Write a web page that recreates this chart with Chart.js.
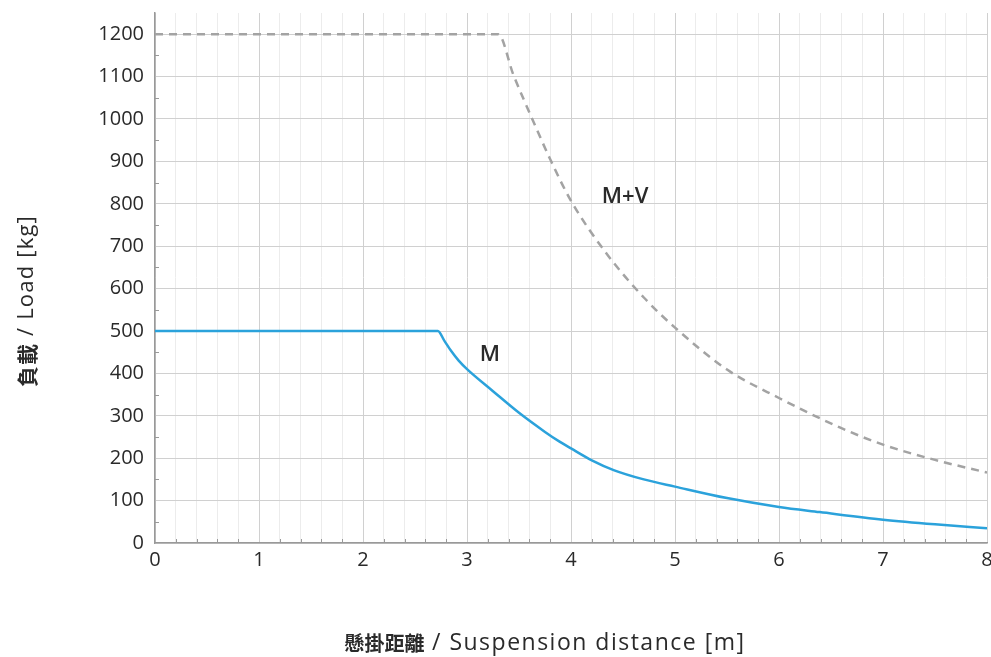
<!DOCTYPE html>
<html>
<head>
<meta charset="utf-8">
<script src="https://cdn.jsdelivr.net/npm/chart.js@4.4.0/dist/chart.umd.min.js"></script>
<style>
html,body{margin:0;padding:0;background:#fff;}
#wrap{width:991px;height:657px;position:relative;}
</style>
</head>
<body>
<div id="wrap"><canvas id="c" width="991" height="657"></canvas></div>
<script>
// Data
const mX = [0, 2.72, 2.78, 2.85, 2.92, 3.0, 3.25, 3.5, 3.75, 3.89, 4.0, 4.2, 4.41, 4.7, 5.0, 5.5, 6.0, 6.39, 7.0, 7.5, 8.0];
const mY = [500, 500, 478, 452, 430, 410, 358, 307, 262, 239, 223, 195, 172, 150, 133, 106, 85, 73, 55, 44, 35];
const mvX = [0, 3.3, 3.445, 3.64, 3.8, 4.0, 4.35, 4.7, 5.0, 5.5, 6.0, 6.59, 7.0, 7.5, 8.0];
const mvY = [1200, 1200, 1105, 993, 905, 807, 680, 579, 508, 409, 342, 272, 232, 196, 166];
const xTicks = [0, 1, 2, 3, 4, 5, 6, 7, 8];
const yTicks = [0, 100, 200, 300, 400, 500, 600, 700, 800, 900, 1000, 1100, 1200];
const seriesLabels = ['M', 'M+V'];
const labelPos = [[3.22, 444], [4.52, 817]];
const xTitleParts = ['懸掛距離', ' / Suspension distance [m]'];
const yTitleParts = ['負載', ' / Load [kg]'];

const FONT = '"Open Sans", "Noto Sans CJK TC", "Noto Sans", sans-serif';
const CJK = '"Noto Sans CJK TC", "Open Sans", sans-serif';
const TEXT = '#2a2a2a';
const toPts = (xs, ys) => xs.map((x, i) => ({x: x, y: ys[i]}));
const near = (v, arr) => arr.some(t => Math.abs(t - v) < 1e-6);

function drawParts(ctx, parts, cx, cy, rot) {
  ctx.save();
  ctx.translate(cx, cy);
  if (rot) ctx.rotate(rot);
  ctx.textBaseline = 'middle';
  ctx.textAlign = 'left';
  ctx.fillStyle = TEXT;
  let total = 0;
  parts.forEach(p => {
    ctx.font = p.font;
    ctx.letterSpacing = p.ls || '0px';
    p.w = ctx.measureText(p.text).width;
    total += p.w;
  });
  let x = -total / 2;
  parts.forEach(p => {
    ctx.font = p.font;
    ctx.letterSpacing = p.ls || '0px';
    ctx.fillText(p.text, x, p.dy || 0);
    x += p.w;
  });
  ctx.restore();
}

const decorPlugin = {
  id: 'decor',
  afterDatasetsDraw(chart) {
    const {ctx, scales, chartArea} = chart;
    // minor tick marks from the scales' own ticks
    ctx.save();
    ctx.strokeStyle = '#999';
    ctx.lineWidth = 1;
    scales.x.ticks.forEach(t => {
      if (near(t.value, xTicks)) return;
      const px = Math.round(scales.x.getPixelForValue(t.value)) + 0.5;
      ctx.beginPath(); ctx.moveTo(px, chartArea.bottom); ctx.lineTo(px, chartArea.bottom - 4); ctx.stroke();
    });
    scales.y.ticks.forEach(t => {
      if (near(t.value, yTicks) || t.value > 1200) return;
      const py = Math.round(scales.y.getPixelForValue(t.value)) + 0.5;
      ctx.beginPath(); ctx.moveTo(chartArea.left - 1, py); ctx.lineTo(chartArea.left + 4, py); ctx.stroke();
    });
    ctx.restore();
    // series labels
    ctx.save();
    ctx.font = '600 22px ' + FONT;
    ctx.fillStyle = TEXT;
    ctx.textAlign = 'center';
    ctx.textBaseline = 'middle';
    seriesLabels.forEach((s, i) => {
      ctx.fillText(s, scales.x.getPixelForValue(labelPos[i][0]), scales.y.getPixelForValue(labelPos[i][1]));
    });
    ctx.restore();
    // axis titles
    drawParts(ctx, [
      {text: xTitleParts[0], font: 'bold 20px ' + CJK, ls: '0px'},
      {text: xTitleParts[1], font: '23px ' + FONT, ls: '1.5px'}
    ], 545, 643, 0);
    drawParts(ctx, [
      {text: yTitleParts[0], font: 'bold 21px ' + CJK, ls: '1px'},
      {text: yTitleParts[1], font: '22px ' + FONT, ls: '1.2px'}
    ], 27, 301, -Math.PI / 2);
  }
};

new Chart(document.getElementById('c'), {
  type: 'line',
  data: {
    datasets: [
      {label: 'M', data: toPts(mX, mY), borderColor: '#2ba2db', borderWidth: 2.5, pointRadius: 0, fill: false, cubicInterpolationMode: 'monotone'},
      {label: 'M+V', data: toPts(mvX, mvY), borderColor: '#a3a3a3', borderWidth: 2.5, borderDash: [8, 6], pointRadius: 0, fill: false, cubicInterpolationMode: 'monotone'}
    ]
  },
  options: {
    responsive: false,
    animation: false,
    layout: {padding: {left: 0, top: 13, right: 4, bottom: 0}},
    plugins: {legend: {display: false}, tooltip: {enabled: false}},
    scales: {
      x: {
        type: 'linear', min: 0, max: 8,
        afterFit(s) { s.height = 114; s.paddingRight = 0; s.paddingLeft = 0; },
        border: {color: '#999', width: 1.5},
        grid: {
          drawTicks: false,
          color: c => near(c.tick.value, xTicks) ? '#d0d0d0' : '#ececec',
          lineWidth: 1
        },
        ticks: {
          stepSize: 0.2, autoSkip: false, maxRotation: 0, padding: 5,
          color: TEXT, font: {family: FONT, size: 20},
          callback: v => near(v, xTicks) ? String(Math.round(v)) : ''
        }
      },
      y: {
        type: 'linear', min: 0, max: 1250,
        afterFit(s) { s.width = 155; s.paddingTop = 0; s.paddingBottom = 0; },
        border: {color: '#999', width: 1.5},
        grid: {
          drawTicks: false,
          color: c => (near(c.tick.value, yTicks) ? '#d0d0d0' : 'rgba(0,0,0,0)'),
          lineWidth: 1
        },
        ticks: {
          stepSize: 50, autoSkip: false, padding: 11,
          color: TEXT, font: {family: FONT, size: 20},
          callback: v => near(v, yTicks) ? String(v) : ''
        }
      }
    }
  },
  plugins: [decorPlugin]
});
</script>
</body>
</html>
